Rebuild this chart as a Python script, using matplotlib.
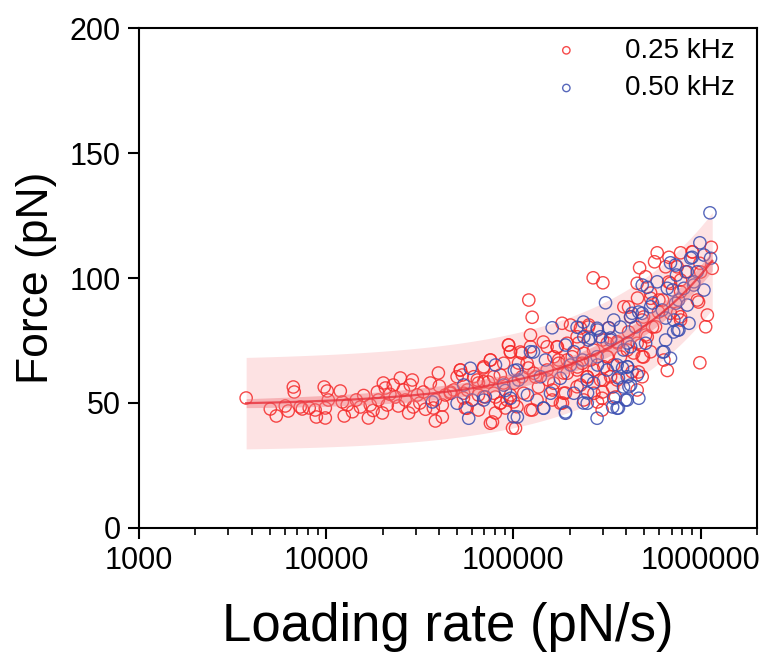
import numpy as np
import matplotlib
matplotlib.use('Agg')
import matplotlib.pyplot as plt
from matplotlib.ticker import FixedLocator, LogLocator, NullFormatter

plt.rcParams['font.family'] = ['Liberation Sans', 'DejaVu Sans']

# ---------------- data (log10 of loading rate in pN/s, force in pN) ----------------
log_rate_025 = [
    3.572, 3.701, 3.733, 3.781, 3.797, 3.824, 3.829, 3.861, 3.872, 3.909, 3.941, 3.947,
    3.989, 4.005, 3.995, 3.995, 4.011, 4.075, 4.086, 4.096, 4.112, 4.160, 4.182, 4.225,
    4.235, 4.273, 4.278, 4.305, 4.316, 4.326, 4.358, 4.369, 4.385, 4.396, 4.412, 4.422,
    4.460, 4.449, 4.465, 4.487, 4.519, 4.556, 4.572, 4.583, 4.599, 4.604, 4.636, 4.663,
    4.717, 4.727, 4.743, 4.807, 4.140, 4.200, 4.250, 4.300, 4.340, 4.440, 4.500, 4.530,
    4.754, 4.813, 4.840, 4.877, 4.866, 4.930, 4.947, 4.973, 4.984, 4.583, 4.620, 4.733,
    4.813, 4.904, 4.984, 4.930, 5.000, 4.620, 4.813, 4.888, 4.957, 4.995, 4.904,
    5.768, 5.754, 5.831, 5.893, 5.955, 6.057, 5.674, 5.706, 5.813, 5.875, 5.920, 5.996,
    6.062, 5.426, 5.478, 5.082, 5.100, 5.661, 5.733, 5.777, 5.839, 5.893, 5.982, 6.036,
    6.027, 5.590, 5.626, 5.688, 5.759, 5.839, 5.893, 5.804, 5.822, 5.996, 5.260, 5.305,
    5.403, 5.554, 5.501, 5.340, 5.287, 5.233, 5.180, 5.091, 5.091, 5.046, 4.975, 4.984,
    4.877, 4.841, 4.716, 4.699, 4.948, 5.073, 5.216, 5.242, 5.287, 5.314, 5.376, 5.367,
    5.412, 5.483, 5.501, 5.572, 5.608, 5.661, 5.688, 5.715, 5.733, 5.634, 5.688, 5.554,
    5.519, 5.465, 5.430, 5.394, 5.340, 5.287, 5.216, 5.180, 5.109, 5.046, 5.002, 4.895,
    4.841, 4.788, 4.681, 4.734, 4.752, 4.841, 4.895, 4.930, 4.966, 5.019, 5.055, 5.091,
    5.126, 5.207, 5.251, 5.269, 5.340, 5.376, 5.430, 5.474, 5.474, 5.661, 4.877, 5.011,
    4.663,
    5.160, 5.235, 5.037, 5.027, 5.241, 5.080, 5.118, 5.187, 5.267, 5.134, 5.209, 5.278,
    5.102, 5.262, 5.358, 5.401, 5.508, 5.476, 5.348, 5.556, 5.428, 5.503, 5.342, 5.535,
    5.396, 5.481, 5.358, 5.530, 5.476, 5.449, 5.545, 5.829, 5.663, 5.733, 5.797, 5.615,
    5.695, 5.775, 5.743, 5.615, 5.706, 5.679, 5.642, 5.695, 5.669, 5.957, 6.000, 5.893,
    5.989, 5.877, 5.893,
]
force_025 = [
    52.0, 47.6, 44.8, 48.8, 46.8, 56.4, 54.4, 48.4, 47.6, 48.0, 47.2, 44.4,
    56.4, 54.8, 48.0, 44.0, 51.2, 54.8, 50.4, 44.8, 49.2, 51.2, 48.4, 44.0,
    49.2, 54.4, 51.2, 58.0, 56.0, 49.2, 57.2, 52.4, 48.8, 60.0, 55.2, 51.2,
    59.2, 57.2, 48.4, 53.2, 54.4, 58.0, 48.0, 42.8, 62.0, 56.8, 53.2, 54.4,
    63.2, 61.2, 48.0, 59.2, 46.5, 53.0, 47.0, 46.0, 53.5, 46.0, 50.0, 47.5,
    55.2, 58.0, 64.0, 67.2, 58.4, 61.2, 58.0, 73.2, 70.4, 51.2, 49.2, 52.0,
    53.2, 52.4, 53.2, 50.0, 50.4, 44.4, 47.2, 42.4, 48.0, 40.0, 46.0,
    110.1, 106.5, 108.3, 110.1, 110.5, 112.3, 104.1, 100.5, 104.5, 104.5, 102.5, 105.9,
    103.9, 100.1, 98.1, 91.2, 84.3, 97.9, 91.9, 91.2, 97.9, 94.5, 91.2, 85.2,
    80.5, 88.5, 84.5, 83.2, 80.5, 85.9, 84.5, 67.2, 63.0, 66.1, 81.9, 81.2,
    81.2, 74.5, 73.9, 76.5, 73.9, 72.5, 72.5, 77.2, 72.5, 69.9, 73.2, 70.5,
    67.2, 64.5, 63.2, 60.5, 65.9, 65.9, 68.5, 65.9, 67.2, 68.5, 69.9, 65.9,
    67.2, 64.5, 68.5, 68.5, 71.2, 73.9, 68.5, 76.5, 70.5, 62.5, 60.5, 59.2,
    60.5, 59.2, 63.2, 60.5, 63.2, 61.9, 57.9, 63.2, 61.9, 60.5, 57.9, 60.5,
    58.5, 60.5, 55.2, 53.9, 47.9, 52.5, 53.9, 49.9, 51.2, 48.5, 53.9, 47.2,
    51.2, 51.2, 49.9, 53.9, 56.5, 51.2, 53.9, 51.9, 47.2, 55.2, 41.9, 39.9,
    53.9,
    74.4, 72.4, 70.4, 66.0, 67.2, 64.0, 60.4, 59.2, 62.0, 56.4, 55.2, 54.0,
    47.2, 50.0, 80.0, 80.4, 80.0, 75.2, 74.0, 74.0, 71.2, 68.4, 64.4, 65.2,
    60.4, 59.2, 57.2, 56.4, 54.4, 50.4, 52.4, 98.4, 92.0, 94.0, 91.2, 88.4,
    84.4, 86.4, 80.4, 78.4, 77.2, 73.2, 70.0, 68.4, 62.4, 110.4, 102.4, 99.2,
    90.4, 86.0, 83.2,
]

log_rate_050 = [
    6.050, 5.996, 5.839, 5.955, 6.018, 6.053, 5.871, 5.929, 5.982, 6.018, 5.492, 5.688,
    5.715, 5.768, 5.822, 5.911, 5.964, 5.866, 5.929, 5.795, 5.733, 5.688, 5.634, 5.857,
    5.938, 5.884, 5.813, 5.804, 5.839, 5.207, 5.340, 5.447, 5.510, 5.536, 5.519, 5.465,
    5.412, 5.376, 5.278, 5.091, 4.770, 4.904, 5.019, 5.171, 5.323, 5.447, 5.554, 5.626,
    5.706, 5.608, 5.661, 5.608, 5.501, 5.394, 5.251, 5.144, 4.948, 4.734, 4.699, 4.779,
    4.841, 4.984, 5.002, 5.162, 5.198, 5.278, 5.323, 5.394, 5.536, 5.554, 5.608, 5.670,
    5.617, 5.447, 4.761, 4.567,
    4.850, 4.957, 5.005, 5.107, 5.305, 5.027, 5.075, 5.160, 5.278, 5.021, 5.374, 5.449,
    5.572, 5.519, 5.401, 5.588, 5.369, 5.449, 5.583, 5.561, 5.428, 5.396, 5.588, 5.374,
    5.530, 5.561, 5.850, 5.743, 5.669, 5.626, 5.813, 5.652, 5.856, 5.610, 5.797, 5.610,
    5.626, 5.599, 5.947, 5.866, 5.963, 5.882, 5.877,
]
force_050 = [
    126.1, 114.1, 106.1, 108.3, 109.2, 107.9, 101.2, 102.5, 102.5, 95.2, 90.1, 97.2,
    96.3, 98.5, 95.9, 95.9, 98.5, 89.9, 89.2, 87.2, 88.5, 85.9, 85.9, 83.2,
    81.9, 79.2, 75.2, 70.5, 67.9, 80.1, 80.3, 79.9, 80.1, 83.2, 75.2, 76.5,
    75.9, 76.5, 73.2, 70.5, 63.9, 65.2, 63.2, 67.2, 70.5, 68.5, 65.2, 72.5,
    73.9, 64.5, 61.2, 60.5, 63.2, 59.2, 59.9, 60.5, 57.2, 57.2, 49.9, 51.2,
    51.2, 51.9, 44.5, 47.9, 53.9, 45.9, 53.9, 49.9, 51.9, 47.9, 51.2, 51.9,
    56.5, 43.9, 43.9, 50.4,
    52.4, 55.0, 63.0, 70.4, 65.2, 59.2, 53.2, 48.0, 46.4, 44.4, 82.4, 79.2,
    80.4, 76.0, 75.2, 71.2, 67.2, 65.2, 64.0, 60.0, 58.0, 54.0, 56.4, 50.0,
    48.4, 48.0, 95.2, 90.0, 86.4, 84.4, 84.0, 80.4, 78.4, 74.0, 70.4, 64.4,
    57.2, 51.2, 108.0, 105.2, 97.2, 91.2, 79.2,
]

series_labels = ['0.25 kHz', '0.50 kHz']
x_ticks = [1e3, 1e4, 1e5, 1e6]
x_tick_labels = ['1000', '10000', '100000', '1000000']
y_ticks = [0, 50, 100, 150, 200]

# fitted model F = F0 + A * r**p, with prediction / confidence half widths
fit_F0, fit_A, fit_p = 49.0, 0.0025, 0.72
pred_hw = (18.3, 19.3)
conf_hw = (1.8, 4.0)

# ---------------- figure ----------------
fig = plt.figure(figsize=(7.6, 6.55), dpi=100)
ax = fig.add_axes([0.183, 0.194, 0.813, 0.763])

all_log = np.array(log_rate_025 + log_rate_050)
lg = np.linspace(all_log.min(), all_log.max(), 300)
r = 10 ** lg
fit = fit_F0 + fit_A * r ** fit_p
t = (lg - lg[0]) / (lg[-1] - lg[0])
ph = pred_hw[0] + (pred_hw[1] - pred_hw[0]) * t
ch = conf_hw[0] + (conf_hw[1] - conf_hw[0]) * t

ax.fill_between(r, fit - ph, fit + ph, color='#fde2e3', lw=0, zorder=1)

ax.scatter(10 ** np.array(log_rate_025), force_025, s=78, facecolors='none',
           edgecolors='#f52a2a', linewidths=1.0, alpha=0.85, zorder=3, label=series_labels[0])
ax.scatter(10 ** np.array(log_rate_050), force_050, s=78, facecolors='none',
           edgecolors='#3a4db0', linewidths=1.0, alpha=0.85, zorder=3, label=series_labels[1])

ax.fill_between(r, fit - ch, fit + ch, color='#f07a80', alpha=0.45, lw=0, zorder=4)
ax.plot(r, fit, color='#e8303a', lw=1.6, alpha=0.8, zorder=5)

ax.set_xscale('log')
ax.set_xlim(1e3, 2.0e6)
ax.set_ylim(0, 200)
ax.xaxis.set_major_locator(FixedLocator(x_ticks))
ax.set_xticklabels(x_tick_labels)
ax.xaxis.set_minor_locator(LogLocator(base=10, subs=np.arange(2, 10)))
ax.xaxis.set_minor_formatter(NullFormatter())
ax.set_yticks(y_ticks)

for s in ax.spines.values():
    s.set_linewidth(1.5)
ax.tick_params(axis='both', which='major', direction='out', length=8, width=1.5,
               labelsize=22, pad=5, top=False, right=False)
ax.tick_params(axis='x', which='minor', direction='out', length=5, width=1.2, top=False)

ax.set_xlabel('Loading rate (pN/s)', fontsize=38, labelpad=19)
ax.set_ylabel('Force (pN)', fontsize=32, labelpad=9)

leg = ax.legend(loc='upper right', bbox_to_anchor=(0.995, 1.02), frameon=False,
                fontsize=20, markerscale=0.6, handletextpad=1.1, labelspacing=0.42,
                borderpad=0.2, scatterpoints=1)

fig.savefig('out.png', dpi=100)
